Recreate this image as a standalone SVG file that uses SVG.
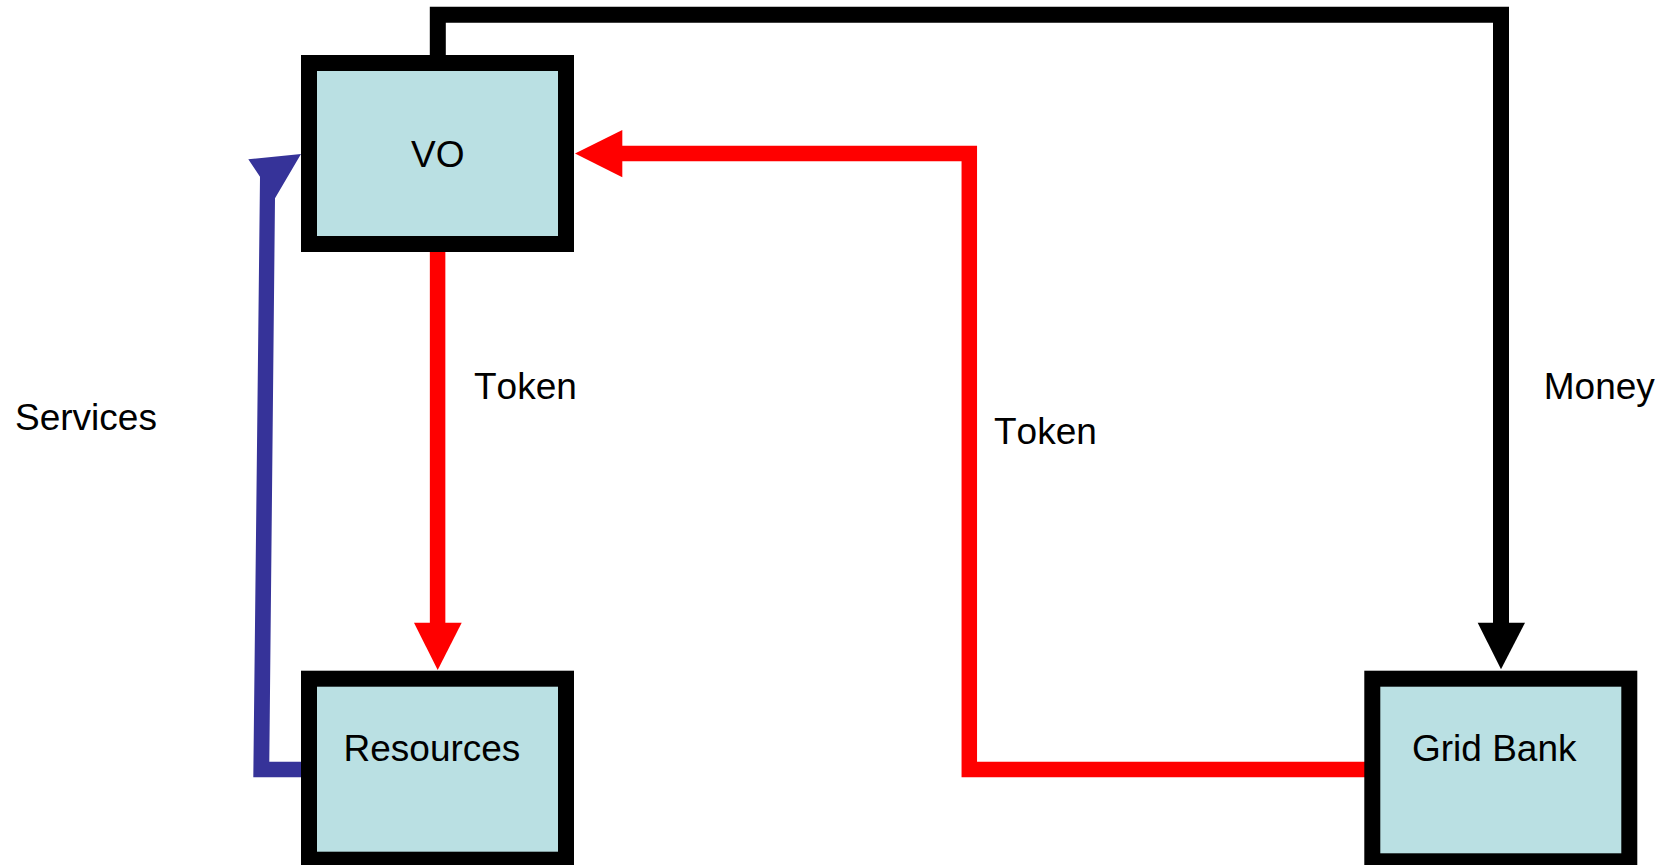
<svg xmlns="http://www.w3.org/2000/svg" width="1661" height="865" viewBox="0 0 1661 865">
  <style>
    .box { fill: #BAE0E3; stroke: #000000; stroke-width: 16; }
    .lbl { font-family: "Liberation Sans", Arial, sans-serif; font-size: 37px; fill: #000000; font-kerning: none; }
    .red { fill: none; stroke: #FF0000; stroke-width: 15.5; stroke-linejoin: miter; }
    .blk { fill: none; stroke: #000000; stroke-width: 16; stroke-linejoin: miter; }
  </style>
  <rect width="1661" height="865" fill="#FFFFFF"/>

  <g id="connectors">
    <!-- Money: VO to Grid Bank -->
    <path class="blk" d="M437.8 55 V14.7 H1501 V624"/>
    <polygon fill="#000000" points="1477.7,622.7 1525,622.7 1501,669.3"/>
    <!-- Token: VO to Resources -->
    <path class="red" d="M437.6 251 V624"/>
    <polygon fill="#FF0000" points="414,622.7 461.7,622.7 437.7,670"/>
    <!-- Token: Grid Bank to VO -->
    <path class="red" d="M1365 769.5 H969.3 V153.4 H621"/>
    <polygon fill="#FF0000" points="622.3,130 622.3,177.3 575,153.4"/>
    <!-- Services: Resources to VO -->
    <polygon fill="#363399" points="248.3,159.3 301,154 275,198.3 269.3,761.7 301,761.7 301,777.3 253.3,777.3 260,176.7"/>
  </g>

  <g id="node-vo">
    <rect class="box" x="309" y="63" width="257" height="181"/>
    <text class="lbl" x="411" y="166.7">VO</text>
  </g>

  <g id="node-resources">
    <rect class="box" x="309" y="678.7" width="257" height="181"/>
    <text class="lbl" x="343.5" y="760.7">Resources</text>
  </g>

  <g id="node-gridbank">
    <rect class="box" x="1372.3" y="678.7" width="257" height="182.6"/>
    <text class="lbl" x="1412" y="760.7">Grid Bank</text>
  </g>

  <g id="labels">
    <text class="lbl" x="474" y="399.3">Token</text>
    <text class="lbl" x="994" y="444.3">Token</text>
    <text class="lbl" x="1543.8" y="399.3">Money</text>
    <text class="lbl" x="15" y="430">Services</text>
  </g>
</svg>
